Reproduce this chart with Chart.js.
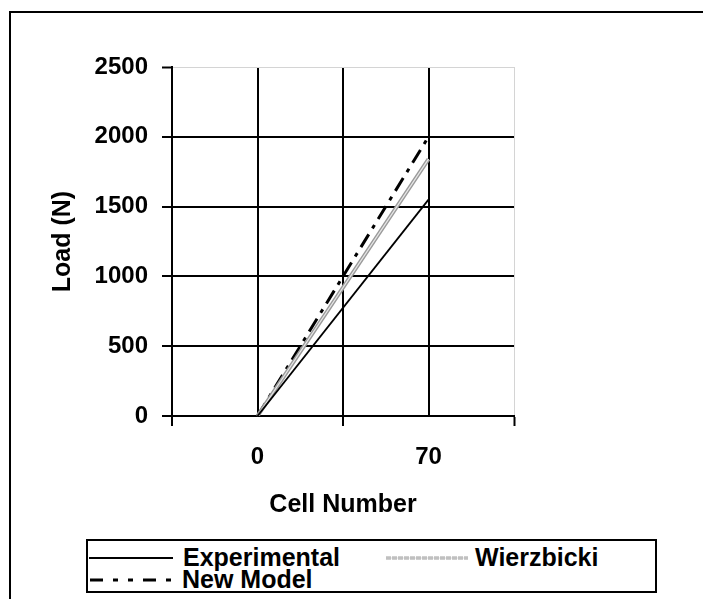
<!DOCTYPE html>
<html><head><meta charset="utf-8">
<script src="https://cdn.jsdelivr.net/npm/chart.js@4/dist/chart.umd.min.js"></script>
<style>
html,body{margin:0;padding:0;background:#fff;}
#wrap{position:relative;width:703px;height:599px;overflow:hidden;font-family:"Liberation Sans",Arial,sans-serif;font-weight:bold;color:#000;}
#frame{position:absolute;left:9px;top:11px;width:740px;height:640px;border-left:2px solid #000;border-top:2px solid #000;box-sizing:border-box;}
canvas{position:absolute;left:0;top:0;}
#legend{position:absolute;left:86px;top:539px;width:571px;height:54px;border:2px solid #000;box-sizing:border-box;background:#fff;}
.item{position:absolute;height:24px;}
.item svg{position:absolute;left:0;top:0;overflow:visible;}
.item span{position:absolute;top:0;font-size:25px;line-height:24px;white-space:nowrap;}
</style>
</head>
<body>
<div id="wrap">
  <div id="frame"></div>
  <canvas id="c" width="703" height="599"></canvas>
  <div id="legend"></div>
</div>
<script>
// ---- data ----
const cellNumbers = [0, 70];
const experimental = [0, 1550];
const wierzbicki = [0, 1840];
const newModel = [0, 2000];
const seriesNames = ['Experimental', 'Wierzbicki', 'New Model'];
const xAxisTitle = 'Cell Number';
const yAxisTitle = 'Load (N)';

const FONT = '"Liberation Sans", Arial, sans-serif';
Chart.defaults.font.family = FONT;
Chart.defaults.font.weight = 'bold';
Chart.defaults.font.size = 24;
Chart.defaults.color = '#000';

const toPts = vals => cellNumbers.map((x, i) => ({x: x, y: vals[i]}));

const doubleLine = {
  id: 'doubleLine',
  afterDatasetDraw(chart, args) {
    if (args.index !== 1) return;
    const pts = args.meta.data;
    const ctx = chart.ctx;
    ctx.save();
    ctx.strokeStyle = '#e8e8e8';
    ctx.lineWidth = 1.2;
    ctx.beginPath();
    pts.forEach((p, i) => i ? ctx.lineTo(p.x, p.y) : ctx.moveTo(p.x, p.y));
    ctx.stroke();
    ctx.restore();
  }
};

new Chart(document.getElementById('c'), {
  type: 'line',
  data: {
    datasets: [
      {label: seriesNames[0], data: toPts(experimental), borderColor: '#000', borderWidth: 1.8, pointRadius: 0, tension: 0},
      {label: seriesNames[1], data: toPts(wierzbicki), borderColor: '#9a9a9a', borderWidth: 4, pointRadius: 0, tension: 0},
      {label: seriesNames[2], data: toPts(newModel), borderColor: '#000', borderWidth: 3, borderDash: [15, 7, 4, 7], pointRadius: 0, tension: 0}
    ]
  },
  options: {
    responsive: false,
    animation: false,
    events: [],
    layout: {padding: {left: 20, right: 189, top: 67, bottom: 79}},
    plugins: {legend: {display: false}, tooltip: {enabled: false}},
    scales: {
      x: {
        type: 'linear',
        min: -35, max: 105,
        afterFit: s => { s.height = 104; },
        ticks: {
          stepSize: 35, autoSkip: false, maxRotation: 0, padding: 17,
          font: {size: 24, weight: 'bold'},
          callback: v => cellNumbers.includes(v) ? String(v) : ''
        },
        grid: {
          color: c => (c.tick && c.tick.value === 105) ? '#d4d4d4' : '#000',
          lineWidth: c => (c.tick && c.tick.value === 105) ? 1 : 2,
          tickColor: c => (c.tick && cellNumbers.includes(c.tick.value)) ? 'rgba(0,0,0,0)' : '#000',
          tickWidth: 2,
          tickLength: 10
        },
        border: {color: '#000', width: 2},
        title: {display: true, text: xAxisTitle, font: {size: 25, weight: 'bold'}, padding: {top: 0, bottom: 0}}
      },
      y: {
        min: 0, max: 2500,
        afterFit: s => { s.width = 152; },
        ticks: {stepSize: 500, padding: 14, font: {size: 24, weight: 'bold'}, callback: v => String(v)},
        grid: {
          color: c => (c.tick && c.tick.value === 2500) ? '#d4d4d4' : '#000',
          lineWidth: c => (c.tick && c.tick.value === 2500) ? 1 : 2,
          tickColor: '#000',
          tickWidth: 2,
          tickLength: 10
        },
        border: {color: '#000', width: 2},
        title: {display: true, text: yAxisTitle, font: {size: 25, weight: 'bold'}, padding: {top: 28, bottom: 0}}
      }
    }
  },
  plugins: [doubleLine]
});

// ---- legend (HTML) ----
const legendItems = [
  {name: seriesNames[0], left: 0, top: 4, textLeft: 95,
   svg: '<line x1="1" y1="13" x2="85" y2="13" stroke="#000" stroke-width="1.8"/>'},
  {name: seriesNames[1], left: 298, top: 4, textLeft: 89,
   svg: '<line x1="0" y1="13" x2="82" y2="13" stroke="#a0a0a0" stroke-width="3" stroke-dasharray="5 1"/><line x1="0" y1="13" x2="82" y2="13" stroke="#e0e0e0" stroke-width="1"/>'},
  {name: seriesNames[2], left: 0, top: 26, textLeft: 94,
   svg: '<line x1="2" y1="13" x2="84" y2="13" stroke="#000" stroke-width="3" stroke-dasharray="13 10 5 10 5 10"/>'}
];
const legend = document.getElementById('legend');
legendItems.forEach(it => {
  const d = document.createElement('div');
  d.className = 'item';
  d.style.left = it.left + 'px';
  d.style.top = it.top + 'px';
  d.innerHTML = '<svg width="90" height="24">' + it.svg + '</svg><span style="left:' + it.textLeft + 'px">' + it.name + '</span>';
  legend.appendChild(d);
});
</script>
</body></html>
